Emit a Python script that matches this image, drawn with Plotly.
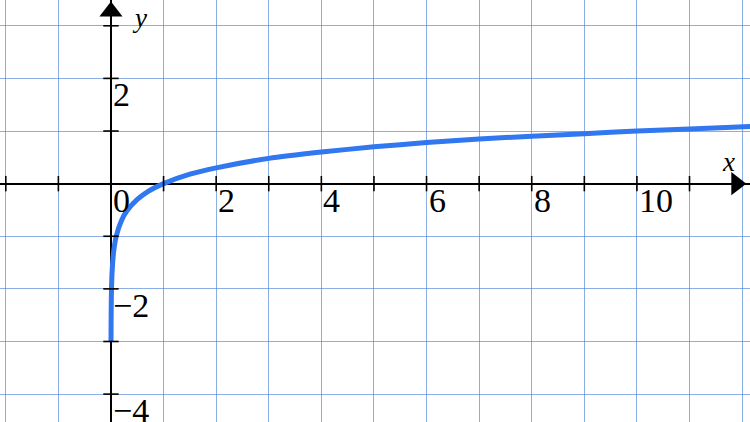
import plotly.graph_objects as go

# curve points
CURVE_X = [0.001, 0.002, 0.005, 0.01, 0.02, 0.05, 0.1, 0.2, 0.3, 0.5, 0.7,
           1, 1.5, 2, 3, 4, 5, 6, 7, 8, 9, 10, 11, 12.2]
CURVE_Y = [-3.0, -2.7, -2.3, -2.0, -1.7, -1.3, -1.0, -0.7, -0.52, -0.3, -0.15,
           0.0, 0.18, 0.3, 0.48, 0.6, 0.7, 0.78, 0.85, 0.9, 0.95, 1.0, 1.04, 1.09]

X_TICKS = [-2, -1, 1, 2, 3, 4, 5, 6, 7, 8, 9, 10, 11]
Y_TICKS = [3, 2, 1, -1, -2, -3, -4]
X_LABELS = [0, 2, 4, 6, 8, 10]
Y_LABELS = [2, -2, -4]

X_RANGE = [-2.11, 12.15]
Y_RANGE = [-4.53, 3.49]

GRID_COLOR = "rgba(70,125,215,0.62)"
CURVE_COLOR = "#3077F0"
FONT = "Liberation Serif, Times New Roman, serif"

fig = go.Figure()

# ── log curve ──
fig.add_trace(go.Scatter(
    x=CURVE_X, y=CURVE_Y,
    mode="lines",
    line=dict(color=CURVE_COLOR, width=5, shape="spline", smoothing=0.6),
    hoverinfo="skip",
))

# ── tick marks on the axes ──
fig.add_trace(go.Scatter(
    x=X_TICKS, y=[0] * len(X_TICKS),
    mode="markers",
    marker=dict(symbol="line-ns-open", size=11, color="black",
                line=dict(color="black", width=1.6)),
    hoverinfo="skip",
))
fig.add_trace(go.Scatter(
    x=[0] * len(Y_TICKS), y=Y_TICKS,
    mode="markers",
    marker=dict(symbol="line-ew-open", size=11, color="black",
                line=dict(color="black", width=1.6)),
    hoverinfo="skip",
))

# ── arrow heads ──
fig.add_trace(go.Scatter(
    x=[X_RANGE[1] - 0.26], y=[0],
    mode="markers",
    marker=dict(symbol="triangle-right", size=20, color="black"),
    hoverinfo="skip",
))
fig.add_trace(go.Scatter(
    x=[0], y=[Y_RANGE[1] - 0.22],
    mode="markers",
    marker=dict(symbol="triangle-up", size=20, color="black"),
    hoverinfo="skip",
))

annotations = []
for v in X_LABELS:
    annotations.append(dict(
        x=v, y=0, text=str(v), showarrow=False,
        xanchor="left", yanchor="top", xshift=0, yshift=4,
        font=dict(family=FONT, size=34, color="black"),
    ))
for v in Y_LABELS:
    annotations.append(dict(
        x=0, y=v, text=str(v).replace("-", "\u2212"), showarrow=False,
        xanchor="left", yanchor="top", xshift=0, yshift=4,
        font=dict(family=FONT, size=34, color="black"),
    ))
annotations.append(dict(
    x=X_RANGE[1] - 0.4, y=0, text="<i>x</i>", showarrow=False,
    xanchor="center", yanchor="bottom", yshift=5,
    font=dict(family=FONT, size=27, color="black"),
))
annotations.append(dict(
    x=0, y=Y_RANGE[1] - 0.35, text="<i>y</i>", showarrow=False,
    xanchor="left", yanchor="middle", xshift=19,
    font=dict(family=FONT, size=27, color="black"),
))

fig.update_layout(
    width=750, height=422,
    margin=dict(l=0, r=0, t=0, b=0),
    plot_bgcolor="white", paper_bgcolor="white",
    showlegend=False,
    xaxis=dict(
        range=X_RANGE, dtick=1, tick0=0,
        showgrid=True, gridcolor=GRID_COLOR, gridwidth=1,
        zeroline=True, zerolinecolor="black", zerolinewidth=1.6,
        showticklabels=False, ticks="", fixedrange=True,
    ),
    yaxis=dict(
        range=Y_RANGE, dtick=1, tick0=0,
        showgrid=True, gridcolor=GRID_COLOR, gridwidth=1,
        zeroline=True, zerolinecolor="black", zerolinewidth=1.6,
        showticklabels=False, ticks="", fixedrange=True,
    ),
    annotations=annotations,
)

fig.write_html(
    "out.html",
    config={"displayModeBar": False},
    post_script="document.body.style.margin='0';",
)
